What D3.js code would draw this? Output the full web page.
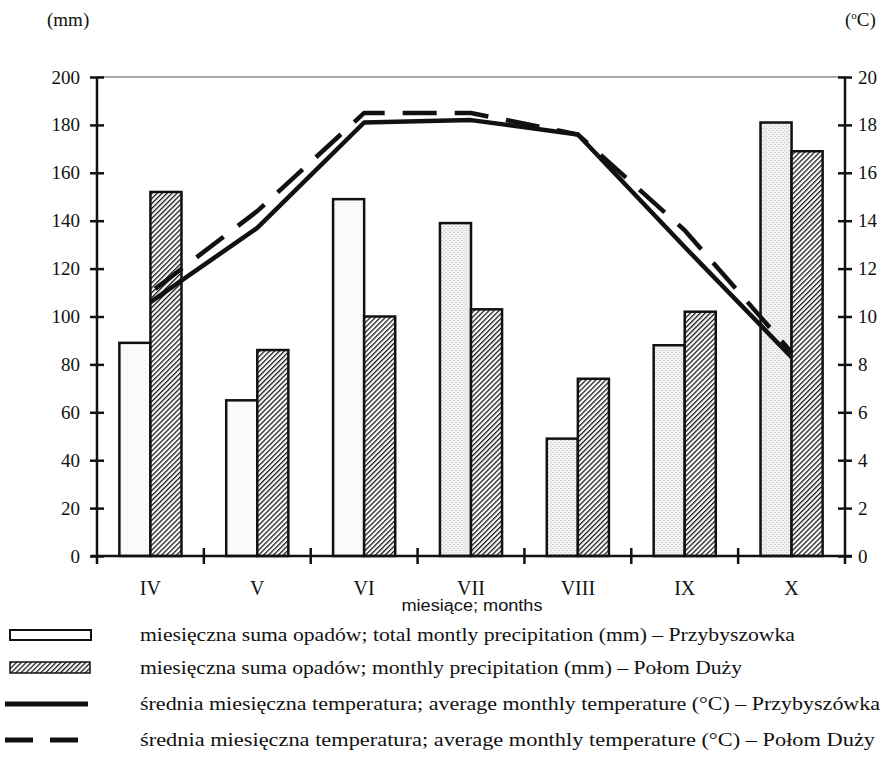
<!DOCTYPE html>
<html>
  <head>
    <meta charset="utf-8">
    <script src="https://d3js.org/d3.v7.min.js"></script>
    <title>Opady i temperatura</title>
    <style type="text/css">
body {
  margin: 0;
  background-color: #fff;
}
svg text {
  font-family: 'Liberation Serif', serif;
  fill: #111;
}
.axis line, .axis path {
  stroke: #111;
  stroke-width: 2.5px;
}
    </style>
  </head>
  <body>

<svg></svg>

<script type="text/javascript">
  const months = ["IV", "V", "VI", "VII", "VIII", "IX", "X"];
  // precipitation (mm)
  const precipPrzybyszowka = [89, 65, 149, 139, 49, 88, 181];
  const precipPolom = [152, 86, 100, 103, 74, 102, 169];
  // mean temperature (°C)
  const tempPrzybyszowka = [10.6, 13.7, 18.1, 18.2, 17.6, 12.9, 8.3];
  const tempPolom = [11.0, 14.4, 18.5, 18.5, 17.6, 13.6, 8.5];
  const mmTicks = [0, 20, 40, 60, 80, 100, 120, 140, 160, 180, 200];
  const tempTicks = [0, 2, 4, 6, 8, 10, 12, 14, 16, 18, 20];
  const legendLabels = [
    "miesięczna suma opadów; total montly precipitation (mm) – Przybyszowka",
    "miesięczna suma opadów; monthly precipitation (mm) – Połom Duży",
    "średnia miesięczna temperatura; average monthly temperature (°C) – Przybyszówka",
    "średnia miesięczna temperatura; average monthly temperature (°C) – Połom Duży"
  ];

  const width = 885;
  const height = 757;
  const plotLeft = 97, plotRight = 845, plotTop = 77, plotBottom = 556;
  const serif = "'Liberation Serif', 'DejaVu Serif', serif";

  const svg = d3.select("svg")
      .attr("width", width)
      .attr("height", height);

  // fill patterns: stipple for Przybyszowka, hatching for Połom Duży
  const defs = svg.append("defs");

  const hatch = defs.append("pattern")
      .attr("id", "hatch")
      .attr("patternUnits", "userSpaceOnUse")
      .attr("width", 3.5).attr("height", 3.5)
      .attr("patternTransform", "rotate(45)");
  hatch.append("rect").attr("width", 3.5).attr("height", 3.5).attr("fill", "#fff");
  hatch.append("line")
      .attr("x1", 0).attr("y1", 0).attr("x2", 0).attr("y2", 3.5)
      .attr("stroke", "#1a1a1a").attr("stroke-width", 2.6);

  const stipple = (id, bg, dot) => {
    const p = defs.append("pattern")
        .attr("id", id)
        .attr("patternUnits", "userSpaceOnUse")
        .attr("width", 4).attr("height", 4);
    p.append("rect").attr("width", 4).attr("height", 4).attr("fill", bg);
    p.append("rect").attr("x", 0).attr("y", 0).attr("width", 1).attr("height", 1).attr("fill", dot);
    p.append("rect").attr("x", 2).attr("y", 2).attr("width", 1).attr("height", 1).attr("fill", dot);
  };
  stipple("dotsLight", "#fdfdfd", "#e4e4e4");
  stipple("dotsDense", "#f1f1f1", "#bdbdbd");

  const x0 = d3.scaleBand().domain(months).range([plotLeft, plotRight]);
  const x1 = d3.scaleBand().domain(["a", "b"]).range([0, x0.bandwidth()]).paddingOuter(0.72);
  const yMm = d3.scaleLinear().domain([0, 200]).range([plotBottom, plotTop]);
  const yTemp = d3.scaleLinear().domain([0, 20]).range([plotBottom, plotTop]);

  // top frame line
  svg.append("line")
      .attr("x1", plotLeft).attr("x2", plotRight)
      .attr("y1", plotTop).attr("y2", plotTop)
      .attr("stroke", "#555").attr("stroke-width", 1.2);

  // bars
  const groups = svg.selectAll(".month")
    .data(months)
    .enter().append("g")
      .attr("class", "month")
      .attr("transform", d => "translate(" + x0(d) + ",0)");

  groups.append("rect")
      .attr("x", x1("a"))
      .attr("width", x1.bandwidth())
      .attr("y", (d, i) => yMm(precipPrzybyszowka[i]))
      .attr("height", (d, i) => plotBottom - yMm(precipPrzybyszowka[i]))
      .attr("fill", (d, i) => i < 3 ? "url(#dotsLight)" : "url(#dotsDense)")
      .attr("stroke", "#111").attr("stroke-width", 2.5);

  groups.append("rect")
      .attr("x", x1("b"))
      .attr("width", x1.bandwidth())
      .attr("y", (d, i) => yMm(precipPolom[i]))
      .attr("height", (d, i) => plotBottom - yMm(precipPolom[i]))
      .attr("fill", "url(#hatch)")
      .attr("stroke", "#111").attr("stroke-width", 2.5);

  // temperature lines
  const line = d3.line()
      .x((d, i) => x0(months[i]) + x0.bandwidth() / 2)
      .y(d => yTemp(d));

  svg.append("path")
      .datum(tempPolom)
      .attr("d", line)
      .attr("fill", "none")
      .attr("stroke", "#111").attr("stroke-width", 4.5)
      .attr("stroke-dasharray", "34,18")
      .attr("stroke-dashoffset", -6);

  svg.append("path")
      .datum(tempPrzybyszowka)
      .attr("d", line)
      .attr("fill", "none")
      .attr("stroke", "#111").attr("stroke-width", 4.5)
      .attr("stroke-linejoin", "round");

  // left axis
  const gl = svg.append("g")
      .attr("class", "axis")
      .attr("transform", "translate(" + plotLeft + ",0)")
      .call(d3.axisLeft(yMm).tickValues(mmTicks).tickSize(7).tickSizeOuter(0).tickPadding(10));
  gl.select(".domain").remove();
  gl.selectAll(".tick line").attr("x1", 7);
  gl.append("line").attr("y1", plotTop).attr("y2", plotBottom + 8);

  // right axis
  const gr = svg.append("g")
      .attr("class", "axis")
      .attr("transform", "translate(" + plotRight + ",0)")
      .call(d3.axisRight(yTemp).tickValues(tempTicks).tickSize(7).tickSizeOuter(0).tickPadding(6));
  gr.select(".domain").remove();
  gr.selectAll(".tick line").attr("x1", -7);
  gr.append("line").attr("y1", plotTop).attr("y2", plotBottom + 8);

  svg.selectAll(".axis")
      .attr("font-family", null)
      .attr("font-size", null);
  svg.selectAll(".axis .tick text")
      .style("font-family", serif)
      .style("font-size", "19px")
      .attr("fill", "#111");

  // x axis
  const gx = svg.append("g")
      .attr("class", "axis")
      .attr("transform", "translate(0," + plotBottom + ")");
  gx.append("line").attr("x1", plotLeft - 6).attr("x2", plotRight + 7);
  gx.selectAll(".sep")
    .data(months.slice(1))
    .enter().append("line")
      .attr("x1", d => x0(d)).attr("x2", d => x0(d))
      .attr("y1", -8).attr("y2", 8);
  gx.selectAll(".mlabel")
    .data(months)
    .enter().append("text")
      .attr("x", d => x0(d) + x0.bandwidth() / 2)
      .attr("y", 39)
      .attr("text-anchor", "middle")
      .style("font-family", serif)
      .style("font-size", "20px")
      .text(d => d);

  svg.append("text")
      .attr("x", 472).attr("y", 611)
      .attr("text-anchor", "middle")
      .style("font-family", "'Liberation Sans', sans-serif")
      .style("font-size", "16px")
      .attr("textLength", 141)
      .attr("lengthAdjust", "spacingAndGlyphs")
      .text("miesiące; months");

  // unit labels
  svg.append("text")
      .attr("x", 47).attr("y", 26)
      .style("font-family", serif)
      .style("font-size", "19px")
      .text("(mm)");

  const uc = svg.append("text")
      .attr("x", 845).attr("y", 26)
      .style("font-family", serif)
      .style("font-size", "19px");
  uc.append("tspan").text("(");
  uc.append("tspan").attr("dy", -7).style("font-size", "11px").text("o");
  uc.append("tspan").attr("dy", 7).text("C)");

  // legend
  const legendY = [635, 668, 704, 740];
  const legendW = [655, 602, 740, 735];
  const legend = svg.selectAll(".legend")
    .data(legendLabels)
    .enter().append("g")
      .attr("class", "legend")
      .attr("transform", (d, i) => "translate(0," + legendY[i] + ")");

  legend.append("text")
      .attr("x", 140).attr("y", 6)
      .style("font-family", serif)
      .style("font-size", "19px")
      .attr("textLength", (d, i) => legendW[i])
      .attr("lengthAdjust", "spacingAndGlyphs")
      .text(d => d);

  legend.filter((d, i) => i === 0).append("rect")
      .attr("x", 10).attr("y", -5).attr("width", 81).attr("height", 10)
      .attr("fill", "#fff").attr("stroke", "#111").attr("stroke-width", 2);
  legend.filter((d, i) => i === 1).append("rect")
      .attr("x", 10).attr("y", -6).attr("width", 80).attr("height", 11)
      .attr("fill", "url(#hatch)").attr("stroke", "#111").attr("stroke-width", 1.5);
  legend.filter((d, i) => i === 2).append("line")
      .attr("x1", 5).attr("x2", 88).attr("y1", 0).attr("y2", 0)
      .attr("stroke", "#111").attr("stroke-width", 5);
  legend.filter((d, i) => i === 3).append("line")
      .attr("x1", 5).attr("x2", 88).attr("y1", 0).attr("y2", 0)
      .attr("stroke", "#111").attr("stroke-width", 5)
      .attr("stroke-dasharray", "28,17");
</script>
  </body>
</html>
